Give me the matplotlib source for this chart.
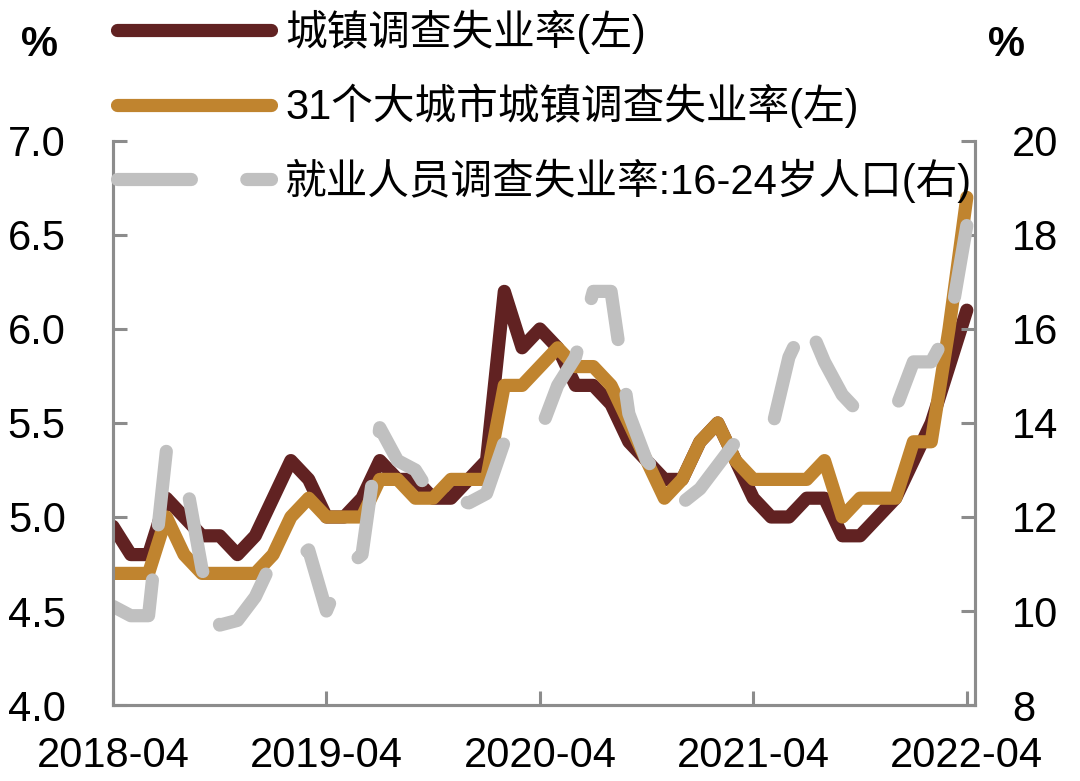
import numpy as np
import pandas as pd
import matplotlib
matplotlib.use("Agg")
import matplotlib.pyplot as plt

plt.rcParams['font.family'] = ['Liberation Sans', 'Noto Sans CJK SC', 'DejaVu Sans']

months = pd.date_range("2018-04", "2022-04", freq="MS")
tick_labels = ["2018-04", "2019-04", "2020-04", "2021-04", "2022-04"]

# 城镇调查失业率 (左)
urban = [4.95, 4.8, 4.8, 5.1, 5.0, 4.9, 4.9, 4.8, 4.9,
         5.1, 5.3, 5.2, 5.0, 5.0, 5.1, 5.3, 5.2, 5.2, 5.1, 5.1, 5.2,
         5.3, 6.2, 5.9, 6.0, 5.9, 5.7, 5.7, 5.6, 5.4, 5.3, 5.2, 5.2,
         5.4, 5.5, 5.3, 5.1, 5.0, 5.0, 5.1, 5.1, 4.9, 4.9, 5.0, 5.1,
         5.3, 5.5, 5.8, 6.1]
# 31个大城市城镇调查失业率 (左)
city31 = [4.7, 4.7, 4.7, 5.0, 4.8, 4.7, 4.7, 4.7, 4.7,
          4.8, 5.0, 5.1, 5.0, 5.0, 5.0, 5.2, 5.2, 5.1, 5.1, 5.2, 5.2,
          5.2, 5.7, 5.7, 5.8, 5.9, 5.8, 5.8, 5.7, 5.5, 5.3, 5.1, 5.2,
          5.4, 5.5, 5.3, 5.2, 5.2, 5.2, 5.2, 5.3, 5.0, 5.1, 5.1, 5.1,
          5.4, 5.4, 6.0, 6.7]
# 就业人员调查失业率:16-24岁人口 (右)
youth = [10.1, 9.9, 9.9, 13.4, 13.0, 10.9, 9.7, 9.8, 10.3,
         11.1, 11.0, 11.3, 10.0, 10.9, 11.2, 13.9, 13.2, 13.0, 12.4, 12.4, 12.3,
         12.5, 13.6, 13.6, 13.8, 14.8, 15.4, 16.8, 16.8, 14.2, 13.2, 12.8, 12.3,
         12.6, 13.1, 13.6, 13.6, 13.8, 15.4, 16.2, 15.3, 14.6, 14.2, 14.3, 14.3,
         15.3, 15.3, 16.0, 18.2]

labels = ["城镇调查失业率(左)", "31个大城市城镇调查失业率(左)", "就业人员调查失业率:16-24岁人口(右)"]
c_dark = "#612222"
c_orange = "#C0842F"
c_gray = "#C0C0C0"
spine_c = "#8C8C8C"

x = np.arange(len(months))

fig = plt.figure(figsize=(10.8, 7.81), dpi=100)
ax = fig.add_axes([0.1046, 0.0973, 0.798, 0.7222])
ax2 = ax.twinx()

lw = 9.5
l1, = ax.plot(x, urban, color=c_dark, lw=lw, solid_joinstyle='round', solid_capstyle='round', zorder=2)
l2, = ax.plot(x, city31, color=c_orange, lw=lw, solid_joinstyle='round', solid_capstyle='round', zorder=3)
l3, = ax2.plot(x, youth, color=c_gray, lw=lw, dashes=(5.6, 4.2), dash_capstyle='round',
               dash_joinstyle='round')

ax.set_xlim(0, 48.45)
ax.set_ylim(4.0, 7.0)
ax2.set_ylim(8, 20)
ax.set_yticks(np.arange(4.0, 7.01, 0.5))
ax.set_yticklabels([f"{v:.1f}" for v in np.arange(4.0, 7.01, 0.5)])
ax2.set_yticks(np.arange(8, 21, 2))
tick_pos = [months.get_loc(pd.Timestamp(t)) for t in tick_labels]
ax.set_xticks(tick_pos)
ax.set_xticklabels(tick_labels)

for a in (ax, ax2):
    a.spines['top'].set_visible(False)
    for s in ('left', 'right', 'bottom'):
        a.spines[s].set_color(spine_c)
        a.spines[s].set_linewidth(2.2)
    a.patch.set_visible(False)
ax.tick_params(axis='y', direction='in', length=10, width=2.2, color=spine_c, labelsize=30, pad=34)
ax.tick_params(axis='x', direction='in', length=10, width=2.2, color=spine_c, labelsize=30, pad=22)
ax2.tick_params(axis='y', direction='in', length=10, width=2.2, color=spine_c, labelsize=30, pad=27)

fig.text(0.037, 0.942, "%", fontsize=30, fontweight='bold', ha='center', va='center')
fig.text(0.932, 0.942, "%", fontsize=30, fontweight='bold', ha='center', va='center')

leg = fig.legend([l1, l2, l3], labels, loc='upper left', bbox_to_anchor=(0.0925, 1.009),
                 frameon=False, fontsize=30, handlelength=3.7, handletextpad=0.35,
                 labelspacing=0.72, borderaxespad=0)

fig.savefig("out.png", dpi=100)
